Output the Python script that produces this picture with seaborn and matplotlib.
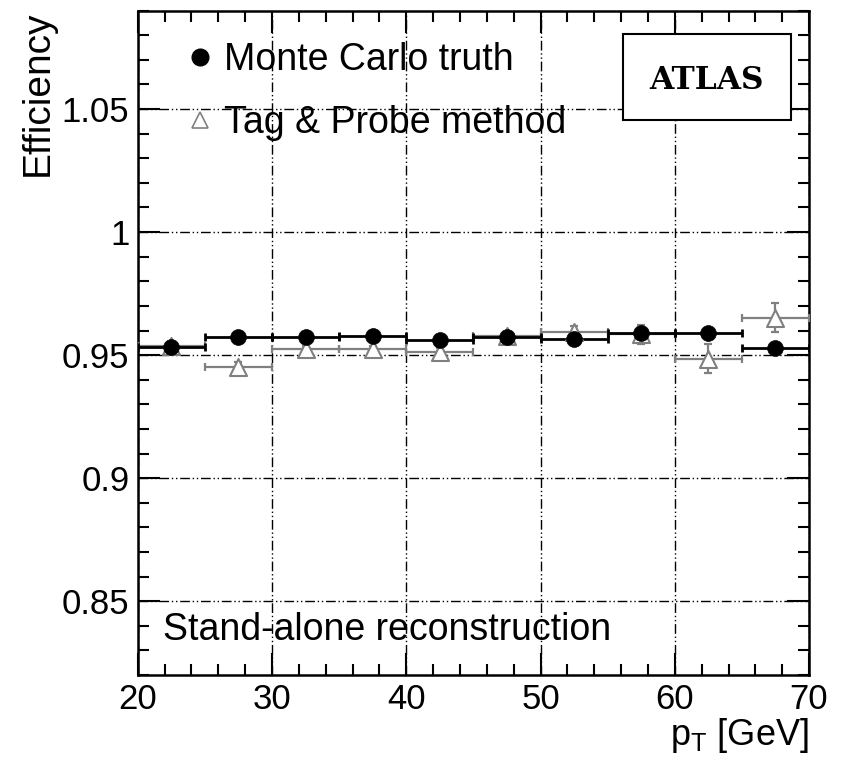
import numpy as np
import pandas as pd
import matplotlib
matplotlib.use("Agg")
import matplotlib.pyplot as plt
from matplotlib.ticker import MultipleLocator, FuncFormatter
from matplotlib.lines import Line2D
from matplotlib.patches import Rectangle
import seaborn as sns

# ---- data ----
pt_centers = [22.5, 27.5, 32.5, 37.5, 42.5, 47.5, 52.5, 57.5, 62.5, 67.5]
pt_halfwidth = [2.5] * 10
mc_eff = [0.9534, 0.9574, 0.9574, 0.9577, 0.9561, 0.9574, 0.9566, 0.9590, 0.9590, 0.9531]
mc_err = [0.0010, 0.0010, 0.0010, 0.0010, 0.0010, 0.0010, 0.0010, 0.0012, 0.0012, 0.0012]
tp_eff = [0.9538, 0.9453, 0.9524, 0.9524, 0.9512, 0.9576, 0.9594, 0.9584, 0.9486, 0.9652]
tp_err = [0.0015, 0.0020, 0.0015, 0.0015, 0.0015, 0.0015, 0.0025, 0.0040, 0.0060, 0.0060]
labels = ["Monte Carlo truth", "Tag & Probe method"]

df = pd.DataFrame({
    "pt": pt_centers * 2,
    "eff": mc_eff + tp_eff,
    "method": [labels[0]] * 10 + [labels[1]] * 10,
})

sns.set_style("ticks")
plt.rcParams["font.family"] = ["Liberation Sans", "DejaVu Sans"]
plt.rcParams["mathtext.fontset"] = "custom"
plt.rcParams["mathtext.rm"] = "Liberation Sans"
plt.rcParams["text.color"] = "black"
plt.rcParams["axes.labelcolor"] = "black"

fig = plt.figure(figsize=(8.44, 7.61), dpi=100)
ax = fig.add_axes([0.1632, 0.113, 0.7954, 0.873])

grey = "#808080"

# error bars
ax.errorbar(pt_centers, tp_eff, xerr=pt_halfwidth, yerr=tp_err, fmt="none",
            ecolor=grey, elinewidth=1.6, capsize=3, capthick=1.6, zorder=3)
ax.errorbar(pt_centers, mc_eff, xerr=pt_halfwidth, yerr=mc_err, fmt="none",
            ecolor="black", elinewidth=2.0, capsize=3, capthick=2.0, zorder=4)

# markers
sns.scatterplot(data=df[df.method == labels[1]], x="pt", y="eff", ax=ax,
                marker="^", s=150, facecolor="white", edgecolor=grey,
                linewidth=1.5, zorder=5, legend=False)
sns.scatterplot(data=df[df.method == labels[0]], x="pt", y="eff", ax=ax,
                marker="o", s=130, color="black", edgecolor="black",
                linewidth=0.5, zorder=6, legend=False)

ax.set_xlim(20, 70)
ax.set_ylim(0.82, 1.09)
ax.xaxis.set_major_locator(MultipleLocator(10))
ax.xaxis.set_minor_locator(MultipleLocator(2))
ax.yaxis.set_major_locator(MultipleLocator(0.05))
ax.yaxis.set_minor_locator(MultipleLocator(0.01))
ax.yaxis.set_major_formatter(FuncFormatter(lambda v, p: "%g" % round(v, 4)))

ax.grid(True, which="major", color="black", linewidth=1.0,
        linestyle=(0, (7, 2, 1, 2, 1, 2)))
ax.set_axisbelow(True)

for s in ax.spines.values():
    s.set_linewidth(1.8)
    s.set_color("black")
    s.set_visible(True)

ax.tick_params(which="both", direction="in", top=True, right=True,
               colors="black", labelsize=25)
ax.tick_params(which="major", length=16, width=1.5, pad=6)
ax.tick_params(which="minor", length=8, width=1.5)

ax.set_xlabel(r"p$_\mathregular{T}$ [GeV]", fontsize=26, loc="right", labelpad=0)
ax.set_ylabel("Efficiency", fontsize=28, loc="top", labelpad=4)

# legend
handles = [
    Line2D([], [], linestyle="none", marker="o", markersize=12, color="black"),
    Line2D([], [], linestyle="none", marker="^", markersize=11,
           markerfacecolor="white", markeredgecolor=grey, markeredgewidth=1.2),
]
leg = ax.legend(handles, labels, loc="upper left", bbox_to_anchor=(0.076, 0.953),
                frameon=False, fontsize=27, handlelength=0.6, handletextpad=0.35,
                labelspacing=0.72, borderpad=0, borderaxespad=0)
for t in leg.get_texts():
    t.set_color("black")

# ATLAS box
ax.add_patch(Rectangle((0.7225, 0.8355), 0.2505, 0.129, transform=ax.transAxes,
                       facecolor="white", edgecolor="black", linewidth=1.5, zorder=9))
ax.text(0.8478, 0.895, "ATLAS", transform=ax.transAxes, ha="center", va="center",
        fontsize=22.5, fontweight="bold", family="DejaVu Serif", color="black",
        zorder=10)

ax.text(0.0377, 0.0527, "Stand-alone reconstruction", transform=ax.transAxes,
        ha="left", va="baseline", fontsize=27, color="black")

fig.savefig("out.png", dpi=100)
